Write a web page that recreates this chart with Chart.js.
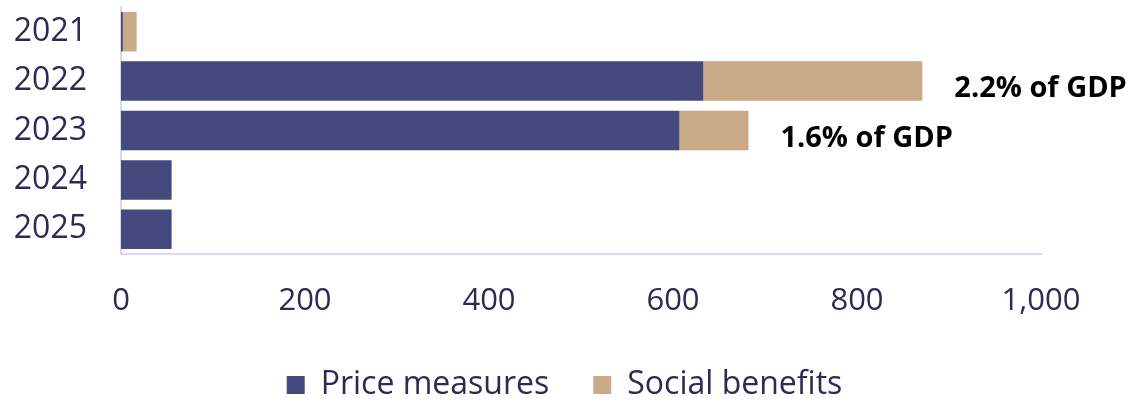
<!DOCTYPE html>
<html>
<head>
<meta charset="utf-8">
<script src="https://cdn.jsdelivr.net/npm/chart.js@4.4.1/dist/chart.umd.min.js"></script>
<style>
  html, body { margin: 0; padding: 0; background: #fff; }
  #wrap { width: 1129px; height: 401px; }
</style>
</head>
<body>
<div id="wrap"><canvas id="chart" width="1129" height="401"></canvas></div>
<script>
// Chart data
const years = ['2021', '2022', '2023', '2024', '2025'];
const priceMeasures = [2, 633, 607, 55, 55];
const socialBenefits = [15, 238, 75, 0, 0];
const gdpLabels = ['', '2.2% of GDP', '1.6% of GDP', '', ''];
const xTicks = [0, 200, 400, 600, 800, 1000];

const textColor = '#2b2c55';
const axisColor = '#d8d9ec';

// Draws the "% of GDP" notes to the right of the stacked bars
const gdpNotes = {
    id: 'gdpNotes',
    afterDatasetsDraw(chart) {
        const ctx = chart.ctx;
        const xScale = chart.scales.x;
        const yScale = chart.scales.y;
        ctx.save();
        ctx.font = 'bold 29px "Open Sans"';
        ctx.fillStyle = '#000';
        ctx.textBaseline = 'middle';
        gdpLabels.forEach((label, i) => {
            if (!label) return;
            const total = priceMeasures[i] + socialBenefits[i];
            const x = xScale.getPixelForValue(total) + 32;
            const y = yScale.getPixelForValue(i) + 8;
            ctx.fillText(label, x, y);
        });
        ctx.restore();
    }
};

const ctx = document.getElementById('chart').getContext('2d');
const chart = new Chart(ctx, {
    type: 'bar',
    data: {
        labels: years,
        datasets: [
            {
                label: 'Price measures',
                data: priceMeasures,
                backgroundColor: '#46497e',
                barPercentage: 0.8,
                categoryPercentage: 1
            },
            {
                label: 'Social benefits',
                data: socialBenefits,
                backgroundColor: '#c9ab87',
                barPercentage: 0.8,
                categoryPercentage: 1
            }
        ]
    },
    options: {
        indexAxis: 'y',
        responsive: false,
        animation: false,
        layout: { padding: 0 },
        scales: {
            x: {
                stacked: true,
                min: 0,
                max: 1000,
                afterBuildTicks(scale) {
                    scale.ticks = xTicks.map(v => ({ value: v }));
                },
                grid: { display: false },
                border: { color: axisColor, width: 2 },
                ticks: {
                    color: textColor,
                    font: { family: 'Open Sans', size: 31 },
                    padding: 21,
                    callback: v => v.toLocaleString('en-US')
                },
                afterFit(scale) {
                    scale.height = 71;
                    scale.paddingLeft = 0;
                    scale.paddingRight = 88;
                    scale.paddingTop = 0;
                    scale.paddingBottom = 0;
                }
            },
            y: {
                stacked: true,
                grid: { display: false },
                border: { color: axisColor, width: 2 },
                ticks: {
                    color: textColor,
                    font: { family: 'Open Sans', size: 32 },
                    padding: 26
                },
                afterFit(scale) {
                    scale.width = 121;
                    scale.paddingTop = 7;
                    scale.paddingBottom = 0;
                }
            }
        },
        plugins: {
            legend: {
                position: 'bottom',
                maxHeight: 76,
                labels: {
                    color: textColor,
                    font: { family: 'Open Sans', size: 32 },
                    boxWidth: 18,
                    boxHeight: 18,
                    padding: 44
                }
            },
            tooltip: { enabled: false }
        }
    },
    plugins: [gdpNotes]
});
</script>
</body>
</html>
